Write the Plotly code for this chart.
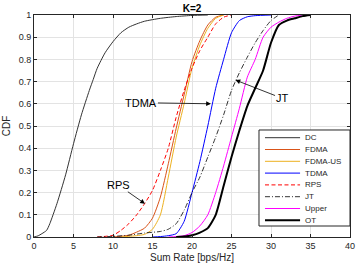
import plotly.graph_objects as go

# ---------------- data ----------------
dc_x = [0, 0.5, 1, 1.6, 2, 2.9, 4, 5, 6, 7, 7.5, 8, 9, 10, 11, 12, 13, 14, 16, 18, 20, 22]
dc_y = [0, 0.005, 0.015, 0.03, 0.06, 0.15, 0.28, 0.42, 0.55, 0.66, 0.71, 0.76, 0.83, 0.88, 0.92, 0.945, 0.96, 0.972, 0.985, 0.993, 0.998, 1]

fdma_x = [10, 11, 12, 13, 14, 15, 16, 17, 18, 19, 20, 21, 22, 23, 24]
fdma_y = [0, 0.003, 0.008, 0.022, 0.04, 0.085, 0.18, 0.33, 0.49, 0.64, 0.79, 0.885, 0.955, 0.99, 1]

fdmaus_x = [11, 12, 13, 14, 15, 16, 17, 18, 19, 20, 21, 22, 23, 24]
fdmaus_y = [0, 0.003, 0.006, 0.012, 0.035, 0.1, 0.27, 0.45, 0.6, 0.76, 0.865, 0.94, 0.985, 1]

tdma_x = [15, 16, 17, 18, 19, 20, 21, 22, 23, 24, 25, 26, 27, 28, 30]
tdma_y = [0, 0.002, 0.006, 0.015, 0.07, 0.2, 0.34, 0.5, 0.67, 0.8, 0.92, 0.975, 0.992, 0.997, 1]

rps_x = [8, 10, 11, 12, 13, 14, 15, 16, 17, 18, 19, 20, 21, 22, 23, 24, 25]
rps_y = [0, 0.008, 0.03, 0.06, 0.1, 0.15, 0.21, 0.3, 0.4, 0.54, 0.66, 0.76, 0.84, 0.9, 0.96, 0.99, 1]

jt_x = [8, 10, 12, 14, 16, 17, 18, 19, 20, 21, 22, 23, 24, 25, 26, 27, 28, 29, 30, 31]
jt_y = [0, 0.003, 0.008, 0.018, 0.025, 0.035, 0.06, 0.12, 0.2, 0.27, 0.36, 0.45, 0.55, 0.66, 0.74, 0.81, 0.875, 0.93, 0.975, 1]

upper_x = [17, 18, 19, 20, 21, 22, 23, 24, 25, 26, 27, 28, 29, 30, 31, 32, 33, 34]
upper_y = [0, 0.002, 0.006, 0.02, 0.05, 0.1, 0.2, 0.32, 0.45, 0.58, 0.72, 0.8, 0.9, 0.945, 0.968, 0.985, 0.995, 1]

ot_x = [18, 19, 20, 21, 22, 23, 24, 25, 26, 27, 28, 29, 30, 31, 32, 33, 34, 35]
ot_y = [0, 0.002, 0.008, 0.02, 0.04, 0.1, 0.23, 0.36, 0.48, 0.59, 0.67, 0.75, 0.875, 0.955, 0.975, 0.985, 0.995, 1]

series_names = ["DC", "FDMA", "FDMA-US", "TDMA", "RPS", "JT", "Upper", "OT"]
series_x = [dc_x, fdma_x, fdmaus_x, tdma_x, rps_x, jt_x, upper_x, ot_x]
series_y = [dc_y, fdma_y, fdmaus_y, tdma_y, rps_y, jt_y, upper_y, ot_y]

# annotation labels: (text, text x, text y, arrow-head x, arrow-head y)
callout_text = ["TDMA", "JT", "RPS"]
callout_tx = [13.6, 31.4, 10.7]
callout_ty = [0.605, 0.625, 0.233]
callout_hx = [22.4, 25.5, 14.05]
callout_hy = [0.600, 0.707, 0.150]

x_ticks = [0, 5, 10, 15, 20, 25, 30, 35, 40]
y_ticks = [0, 0.1, 0.2, 0.3, 0.4, 0.5, 0.6, 0.7, 0.8, 0.9, 1]

# ---------------- styles ----------------
colors = ["#333333", "#D95319", "#EDB120", "#0000FF", "#FF0000", "#000000", "#FF00FF", "#000000"]
widths = [1, 1, 1, 1, 1, 0.8, 1, 2]
dashes = ["solid", "solid", "solid", "solid", "4px,2.5px", "5px,2px,1px,2px", "solid", "solid"]

FONT = "Liberation Sans, Arial, Helvetica, sans-serif"
TXT = "#262626"

fig = go.Figure()
for name, xs, ys, c, w, d in zip(series_names, series_x, series_y, colors, widths, dashes):
    fig.add_trace(go.Scatter(
        x=xs, y=ys, mode="lines", name=name, showlegend=False, hoverinfo="skip",
        line=dict(color=c, width=w, dash=d, shape="spline", smoothing=0.6),
    ))

# callouts with arrows
for t, tx, ty, hx, hy in zip(callout_text, callout_tx, callout_ty, callout_hx, callout_hy):
    fig.add_annotation(
        x=hx, y=hy, ax=tx, ay=ty, xref="x", yref="y", axref="x", ayref="y",
        text=t, showarrow=True, arrowhead=2, arrowsize=1.2, arrowwidth=0.8,
        arrowcolor="#000000", font=dict(family=FONT, size=11, color="#000000"),
        borderpad=0,
    )

# manual legend (box, samples, labels) in paper coordinates
lx0, lx1, ly0, ly1 = 0.712, 1.0, 0.0495, 0.482
fig.add_shape(type="rect", xref="paper", yref="paper", x0=lx0, x1=lx1, y0=ly0, y1=ly1,
              line=dict(color="#262626", width=1), fillcolor="white", layer="above")
row_top_px = 137.7
row_step_px = 11.8
for i, (name, c, w, d) in enumerate(zip(series_names, colors, widths, dashes)):
    py = row_top_px + row_step_px * i
    yp = (237 - py) / 222
    fig.add_shape(type="line", xref="paper", yref="paper",
                  x0=0.731, x1=0.842, y0=yp, y1=yp,
                  line=dict(color=c, width=w, dash=d), layer="above")
    fig.add_annotation(xref="paper", yref="paper", x=0.851, y=yp, text=name,
                       showarrow=False, xanchor="left", yanchor="middle",
                       font=dict(family=FONT, size=8, color=TXT))

axis_common = dict(
    showgrid=True, gridcolor="#e3e3e3", gridwidth=1, zeroline=False,
    showline=True, linecolor="#262626", linewidth=1, mirror="ticks",
    ticks="inside", ticklen=3, tickcolor="#262626", automargin=False,
    tickfont=dict(family=FONT, size=9, color=TXT),
)

fig.update_layout(
    width=357, height=267,
    margin=dict(l=34, r=7, t=15, b=30),
    paper_bgcolor="white", plot_bgcolor="white",
    showlegend=False, hovermode=False,
    title=dict(text="<b>K=2</b>", x=0.5, xref="paper", y=1 - 8 / 267, yref="container",
               yanchor="middle", xanchor="center",
               font=dict(family=FONT, size=10, color="#000000")),
    xaxis=dict(range=[0, 40], tickvals=x_ticks,
               title=dict(text="Sum Rate [bps/Hz]", standoff=4,
                          font=dict(family=FONT, size=10, color=TXT)),
               **axis_common),
    yaxis=dict(range=[0, 1], tickvals=y_ticks,
               title=dict(text="CDF", standoff=6,
                          font=dict(family=FONT, size=10, color=TXT)),
               **axis_common),
)

fig.write_html("out.html", config={"displayModeBar": False, "staticPlot": True},
               post_script="document.body.style.margin='0px';document.body.style.overflow='hidden';")
